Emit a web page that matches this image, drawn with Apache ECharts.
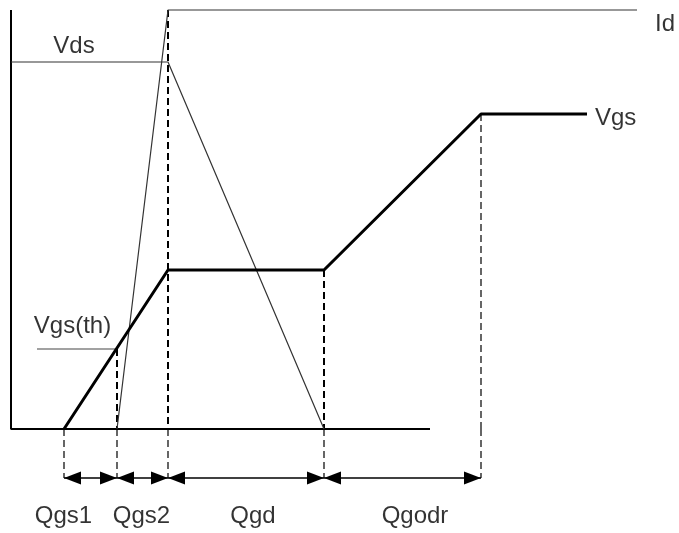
<!DOCTYPE html>
<html>
<head>
<meta charset="utf-8">
<script src="https://cdn.jsdelivr.net/npm/echarts@6/dist/echarts.min.js"></script>
<style>html,body{margin:0;padding:0;background:#fff}#c{width:679px;height:533px}</style>
</head>
<body>
<div id="c"></div>
<script>
// ---- data (charge on x, voltage/current on y, arbitrary units) ----
const chargeMarks = [53, 106, 157, 313, 470];          // Qgs1 start, Qgs2 start, Qgd start, Qgodr start, end
const segLabels   = ['Qgs1', 'Qgs2', 'Qgd', 'Qgodr'];
const segLabelQ   = [52.5, 130.5, 242, 404];
const vgsQ = [53, 157, 313, 470, 576];
const vgsV = [0, 159, 159, 315, 315];
const vdsQ = [0, 157, 313];
const vdsV = [367, 367, 0];
const idQ  = [106, 157, 626];
const idV  = [0, 419, 419];
const vth = 80;
const vthStartQ = 26;
const axisTop = 419;
const axisRight = 419;
const arrowLevel = -49;
const dashTops = [0, 80, 419, 159, 315];

const pairs = (xs, ys) => xs.map((x, i) => [x, ys[i]]);
const font = 'Liberation Sans, Arial, sans-serif';

const series = [];
// axes
series.push({type:'line', data:[[0, axisTop],[0,0],[axisRight,0]], symbol:'none',
  lineStyle:{color:'#000', width:2}, z:3});
// dashed verticals above baseline
chargeMarks.forEach((q, i) => {
  const thick = (i === 1 || i === 2 || i === 3);
  if (dashTops[i] > 0) {
    series.push({type:'line', data:[[q, dashTops[i]],[q, 0]], symbol:'none',
      lineStyle:{color:'#000', width: thick ? 2 : 1.2, type:[7,4]}, z:2});
  }
  series.push({type:'line', data:[[q, 0],[q, arrowLevel]], symbol:'none',
    lineStyle:{color:'#000', width:1.2, type:[7,4]}, z:2});
});
// Vgs(th) level
series.push({type:'line', data:[[vthStartQ, vth],[chargeMarks[1], vth]], symbol:'none',
  lineStyle:{color:'#444', width:1.2}, z:2});
// Vds
series.push({type:'line', data:pairs(vdsQ, vdsV), symbol:'none',
  lineStyle:{color:'#333', width:1.2}, z:3});
// Id
series.push({type:'line', data:pairs(idQ, idV), symbol:'none',
  lineStyle:{color:'#333', width:1.2}, z:3});
// Vgs
series.push({type:'line', data:pairs(vgsQ, vgsV), symbol:'none',
  lineStyle:{color:'#000', width:3}, z:5});
// arrows
const arrowData = [];
for (let i = 0; i < chargeMarks.length - 1; i++) arrowData.push([chargeMarks[i], chargeMarks[i+1], arrowLevel]);
series.push({type:'custom', data: arrowData, z:4,
  renderItem: function (params, api) {
    const p1 = api.coord([api.value(0), api.value(2)]);
    const p2 = api.coord([api.value(1), api.value(2)]);
    const L = 17, h = 6.5;
    return {type:'group', children:[
      {type:'line', shape:{x1:p1[0], y1:p1[1], x2:p2[0], y2:p2[1]}, style:{stroke:'#000', lineWidth:1.5}},
      {type:'polygon', shape:{points:[[p1[0], p1[1]],[p1[0]+L, p1[1]-h],[p1[0]+L, p1[1]+h]]}, style:{fill:'#000'}},
      {type:'polygon', shape:{points:[[p2[0], p2[1]],[p2[0]-L, p2[1]-h],[p2[0]-L, p2[1]+h]]}, style:{fill:'#000'}}
    ]};
  }
});
// labels
const centerLabels = segLabels.map((s, i) => ({name:s, value:[segLabelQ[i], -87]}));
centerLabels.push({name:'Vds', value:[63, 383]});
centerLabels.push({name:'Vgs(th)', value:[61.5, 103]});
series.push({type:'scatter', data:centerLabels, symbolSize:0, z:6,
  label:{show:true, position:'inside', formatter:'{b}', color:'#000', fontSize:24, fontFamily:font}});
const leftLabels = [
  {name:'Vgs', value:[584, 311]},
  {name:'Id', value:[644, 405]}
];
series.push({type:'scatter', data:leftLabels, symbolSize:0, z:6,
  label:{show:true, position:'inside', align:'left', formatter:'{b}', color:'#000', fontSize:24, fontFamily:font}});

const chart = echarts.init(document.getElementById('c'));
chart.setOption({
  animation:false,
  backgroundColor:'#fff',
  grid:{left:0, right:0, top:0, bottom:0},
  xAxis:{type:'value', min:-11, max:668, show:false},
  yAxis:{type:'value', min:-104, max:429, show:false},
  series: series
});
</script>
</body>
</html>
